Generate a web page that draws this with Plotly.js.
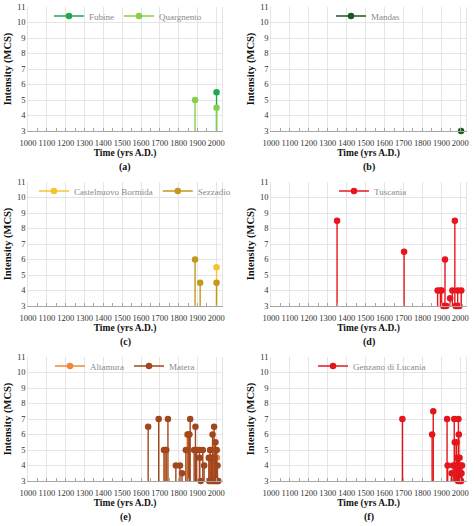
<!DOCTYPE html>
<html>
<head>
<meta charset="utf-8">
<script src="https://cdn.plot.ly/plotly-3.0.1.min.js"></script>
<style>
  html, body { margin: 0; padding: 0; background: #ffffff; }
  #chart { width: 474px; height: 526px; }
</style>
</head>
<body>
<div id="chart"></div>
<script>
// Macroseismic intensity histories (MCS) of the studied towns, years A.D.

// (a)
const fubineYears = [2001];
const fubineInt = [5.5];
const quargnentoYears = [1887, 2001];
const quargnentoInt = [5, 4.5];

// (b)
const mandasYears = [2004];
const mandasInt = [3];

// (c)
const castelnuovoYears = [2001];
const castelnuovoInt = [5.5];
const sezzadioYears = [1887, 1914, 2001];
const sezzadioInt = [6, 4.5, 4.5];

// (d)
const tuscaniaYears = [1349, 1703, 1880, 1895, 1901, 1910, 1915, 1919, 1926, 1946, 1958, 1971, 1975, 1979, 1986, 1990, 1995, 2005];
const tuscaniaInt = [8.5, 6.5, 4, 4, 4, 3, 3, 6, 3, 3.5, 4, 8.5, 3, 3, 4, 3, 3, 4];

// (e)
const altamuraYears = [1725, 1730, 1845, 1853, 1963, 1968, 1976, 1983, 1990, 1997, 2003, 2008];
const altamuraInt = [5, 5, 6, 6, 4.5, 5, 4, 4.5, 5, 4, 4.5, 3];
const materaYears = [1638, 1694, 1722, 1734, 1743, 1785, 1807, 1818, 1838, 1850, 1857, 1861, 1882, 1889, 1895, 1910, 1912, 1917, 1928, 1935,
  1960, 1962, 1966, 1967, 1974, 1978, 1980, 1984, 1988, 1990, 1992, 1995, 1998, 2002, 2004, 2006, 2010];
const materaInt = [6.5, 7, 5, 5, 7, 4, 4, 3.5, 5, 6, 6, 7, 5, 6.5, 5, 5, 4.5, 3, 5, 4,
  4.5, 3, 3, 5, 4.5, 3, 6, 3, 6.5, 4.5, 3, 5.5, 3, 5, 3, 4, 3];

// (f)
const genzanoYears = [1694, 1851, 1857, 1930, 1933, 1954, 1962, 1968, 1971, 1976, 1980, 1984, 1988, 1990, 1992, 1996, 1998, 2000, 2002, 2004, 2006, 2009];
const genzanoInt = [7, 6, 7.5, 7, 4, 3.5, 4, 7, 5.5, 4, 5.5, 4.5, 3, 7, 6, 4.5, 3.5, 3, 4, 3, 3.5, 4];

const yearTicks = [1000, 1100, 1200, 1300, 1400, 1500, 1600, 1700, 1800, 1900, 2000];
const intensityTicks = [3, 4, 5, 6, 7, 8, 9, 10, 11];
const panelLetters = ['(a)', '(b)', '(c)', '(d)', '(e)', '(f)'];

const W = 474, H = 526;
const BASE = 3;
const SERIF = 'Liberation Serif, Times New Roman, serif';

// Each event is a stem: a marker at the intensity joined by a line down to the axis floor.
function stems(years, values, color, name, idx, legendId) {
  const x = [], y = [], mc = [];
  years.forEach((yr, i) => {
    x.push(yr, yr, null);
    y.push(values[i], BASE, null);
    mc.push(color, 'rgba(0,0,0,0)', color);
  });
  const ax = idx === 0 ? '' : String(idx + 1);
  return {
    type: 'scatter', mode: 'lines+markers', name: name,
    x: x, y: y, xaxis: 'x' + ax, yaxis: 'y' + ax,
    legend: legendId,
    cliponaxis: false,
    line: { color: color, width: 1.4 },
    marker: { color: mc, size: 6.5, line: { width: 0 } },
    hoverinfo: 'skip'
  };
}

const traces = [
  stems(fubineYears, fubineInt, '#1fa84f', 'Fubine', 0, 'legend'),
  stems(quargnentoYears, quargnentoInt, '#86cf4a', 'Quargnento', 0, 'legend'),
  stems(mandasYears, mandasInt, '#1d5a1d', 'Mandas', 1, 'legend2'),
  stems(castelnuovoYears, castelnuovoInt, '#f5c330', 'Castelnuovo Bormida', 2, 'legend3'),
  stems(sezzadioYears, sezzadioInt, '#c4981e', 'Sezzadio', 2, 'legend3'),
  stems(tuscaniaYears, tuscaniaInt, '#e8161c', 'Tuscania', 3, 'legend4'),
  stems(altamuraYears, altamuraInt, '#f0873a', 'Altamura', 4, 'legend5'),
  stems(materaYears, materaInt, '#a2461d', 'Matera', 4, 'legend5'),
  stems(genzanoYears, genzanoInt, '#e3161c', 'Genzano di Lucania', 5, 'legend6')
];

// panel geometry in pixels
const colX = [[28, 222], [271, 466]];
const rowTop = 7, rowBottom = 131, rowH = 175;

const layout = {
  width: W, height: H,
  margin: { l: 0, r: 0, t: 0, b: 0 },
  paper_bgcolor: '#ffffff', plot_bgcolor: '#ffffff',
  showlegend: true,
  font: { family: SERIF, color: '#222222' },
  annotations: []
};

const legendSpots = [
  { id: 'legend', row: 0, x: 49 },
  { id: 'legend2', row: 0, x: 331 },
  { id: 'legend3', row: 1, x: 34 },
  { id: 'legend4', row: 1, x: 334 },
  { id: 'legend5', row: 2, x: 50 },
  { id: 'legend6', row: 2, x: 313 }
];

for (let i = 0; i < 6; i++) {
  const col = i % 2, row = Math.floor(i / 2);
  const ax = i === 0 ? '' : String(i + 1);
  const top = row * rowH + rowTop, bottom = row * rowH + rowBottom;
  layout['xaxis' + ax] = {
    domain: [colX[col][0] / W, colX[col][1] / W],
    anchor: 'y' + ax,
    range: [1000, 2030],
    tickvals: yearTicks,
    ticktext: yearTicks.map(String),
    tickangle: 0,
    ticklabelstandoff: 4,
    ticks: 'inside', ticklen: 3, tickcolor: '#a6a6a6',
    minor: { dtick: 50, tick0: 1000, ticks: 'inside', ticklen: 3, tickcolor: '#a6a6a6', showgrid: false },
    showgrid: true, gridcolor: '#dedede', gridwidth: 0.8,
    showline: true, linecolor: '#a6a6a6', linewidth: 1,
    zeroline: false,
    tickfont: { family: SERIF, size: 8.5, color: '#333333' },
    title: { text: '<b>Time (yrs A.D.)</b>', standoff: 1, font: { family: SERIF, size: 9.5, color: '#111111' } },
    fixedrange: true
  };
  layout['yaxis' + ax] = {
    domain: [1 - bottom / H, 1 - top / H],
    anchor: 'x' + ax,
    range: [3, 11],
    tickvals: intensityTicks,
    ticktext: intensityTicks.map(String),
    ticks: '',
    showgrid: true, gridcolor: '#dedede', gridwidth: 0.8,
    showline: true, linecolor: '#dedede', linewidth: 0.8, mirror: true,
    zeroline: false,
    tickfont: { family: SERIF, size: 8.5, color: '#333333' },
    title: { text: '<b>Intensity (MCS)</b>', standoff: 3, font: { family: SERIF, size: 10.5, color: '#111111' } },
    fixedrange: true
  };
  layout.annotations.push({
    text: '<b>' + panelLetters[i] + '</b>',
    xref: 'paper', yref: 'paper',
    x: (colX[col][0] + colX[col][1]) / 2 / W,
    y: 1 - (row * rowH + 167) / H,
    xanchor: 'center', yanchor: 'middle',
    showarrow: false,
    font: { family: SERIF, size: 10, color: '#111111' }
  });
}

// one legend per panel, inside the top of the plot area
legendSpots.forEach(s => {
  layout[s.id] = {
    orientation: 'h',
    x: s.x / W, xanchor: 'left',
    y: 1 - (s.row * rowH + 16) / H, yanchor: 'middle',
    bgcolor: 'rgba(255,255,255,0)',
    font: { family: SERIF, size: 9, color: '#8a8a8a' },
    itemwidth: 30,
    tracegroupgap: 0,
    itemclick: false, itemdoubleclick: false
  };
});

Plotly.newPlot('chart', traces, layout, { staticPlot: true, displayModeBar: false });
</script>
</body>
</html>
